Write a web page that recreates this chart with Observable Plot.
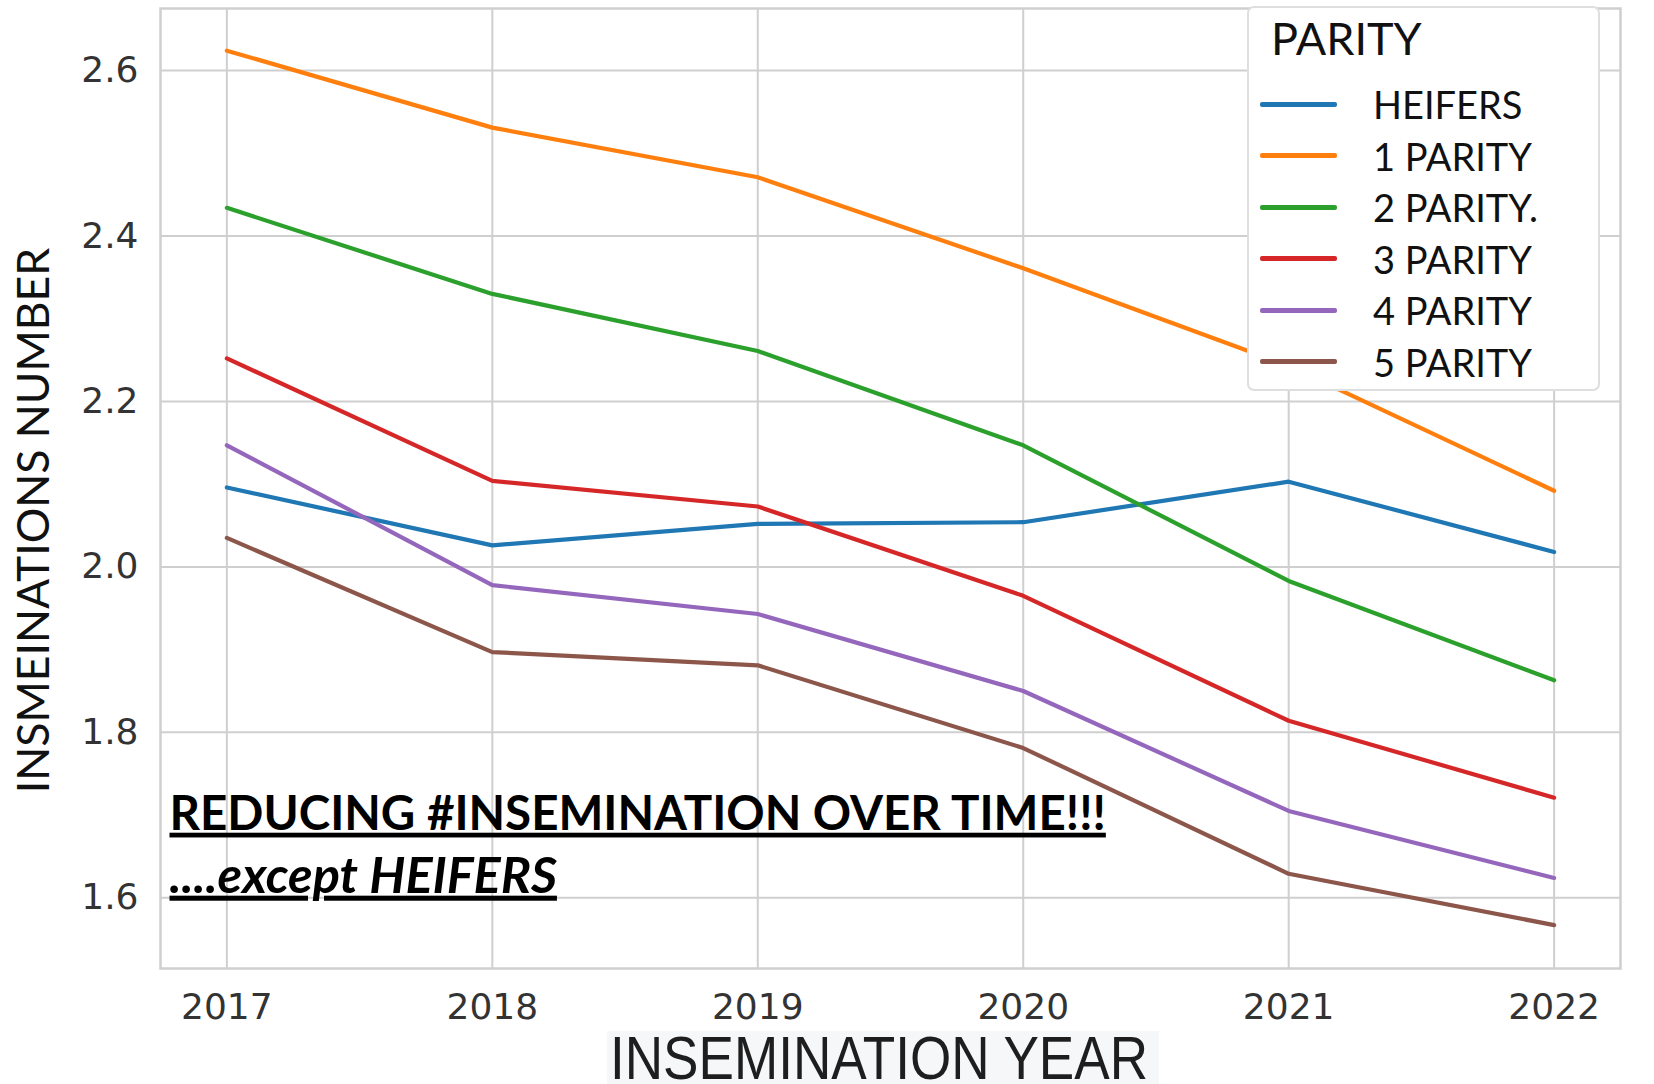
<!DOCTYPE html>
<html><head><meta charset="utf-8">
<script src="https://cdn.jsdelivr.net/npm/d3@7"></script>
<script src="https://cdn.jsdelivr.net/npm/@observablehq/plot@0.6"></script>
<style>
body{margin:0;background:#fff;}
#wrap{position:relative;width:1654px;height:1084px;overflow:hidden;background:#fff;}
#legend{position:absolute;left:1247px;top:6px;width:353px;height:385px;background:#fff;border:2px solid #dedede;border-radius:7px;box-sizing:border-box;font-family:Lato,"Open Sans",sans-serif;color:#111;}
#legend .title{position:absolute;left:22px;top:30px;transform:translateY(-50%);font-size:45px;line-height:1;}
#legend .row{position:absolute;left:0;height:0;}
#legend .sw{position:absolute;left:11px;width:77px;height:5px;top:-2.5px;border-radius:2px;}
#legend .lab{position:absolute;left:124px;top:0;transform:translateY(-50%);font-size:38px;line-height:1;white-space:nowrap;}
#xtitle{position:absolute;left:607px;top:1031px;width:552px;height:53px;background:#f6f7f9;}
#xtitle span{position:absolute;left:3px;top:50%;transform-origin:0 50%;transform:translateY(-50%) scale(0.9,1.04);font-family:"Liberation Sans",Arial,sans-serif;font-size:59px;line-height:0.78;color:#1e1e1e;white-space:nowrap;}
</style></head><body><div id="wrap"></div>
<script>
const years = [2017, 2018, 2019, 2020, 2021, 2022];
const seriesNames = ["HEIFERS", "1 PARITY", "2 PARITY.", "3 PARITY", "4 PARITY", "5 PARITY"];
const heifers = [2.096, 2.026, 2.052, 2.054, 2.103, 2.018];
const parity1 = [2.624, 2.531, 2.471, 2.361, 2.243, 2.092];
const parity2 = [2.434, 2.330, 2.261, 2.147, 1.983, 1.863];
const parity3 = [2.252, 2.104, 2.073, 1.965, 1.814, 1.721];
const parity4 = [2.147, 1.978, 1.943, 1.850, 1.705, 1.624];
const parity5 = [2.035, 1.897, 1.881, 1.781, 1.629, 1.567];
const colors = ["#1f77b4", "#ff7f0e", "#2ca02c", "#d62728", "#9467bd", "#8c564b"];
const yTicks = [1.6, 1.8, 2.0, 2.2, 2.4, 2.6];
const yTitle = "INSMEINATIONS NUMBER";
const xTitle = "INSEMINATION YEAR";
const legendTitle = "PARITY";
const note1 = "REDUCING #INSEMINATION OVER TIME!!!";
const note2 = "....except HEIFERS";

const seriesValues = [heifers, parity1, parity2, parity3, parity4, parity5];
const rows = [];
seriesNames.forEach((name, i) => years.forEach((yr, j) => rows.push({series: name, year: yr, value: seriesValues[i][j]})));

const grid = "#cfcfcf";
const plot = Plot.plot({
  width: 1654, height: 1084,
  marginLeft: 160, marginRight: 34, marginTop: 8, marginBottom: 116,
  style: {background: "transparent"},
  x: {domain: [2016.75, 2022.25]},
  y: {domain: [1.5145, 2.675]},
  color: {domain: seriesNames, range: colors},
  marks: [
    Plot.gridY(yTicks, {stroke: grid, strokeOpacity: 1, strokeWidth: 2}),
    Plot.gridX(years, {stroke: grid, strokeOpacity: 1, strokeWidth: 2}),
    Plot.frame({stroke: grid, strokeWidth: 2.5}),
    Plot.axisY(yTicks, {tickSize: 0, tickPadding: 22, fontSize: 36, fontFamily: "DejaVu Sans", fill: "#333", label: null, tickFormat: d => d.toFixed(1)}),
    Plot.axisX(years, {tickSize: 0, tickPadding: 25, fontSize: 36, fontFamily: "DejaVu Sans", fill: "#333", label: null, tickFormat: d => String(d)}),
    Plot.line(rows, {x: "year", y: "value", z: "series", stroke: "series", strokeWidth: 4.2}),
    Plot.text([yTitle], {frameAnchor: "left", dx: -126, dy: 32, rotate: -90, textAnchor: "middle", lineAnchor: "middle", fontSize: 44.5, fontFamily: "Lato", fill: "#111", text: d => d}),
    Plot.text([note1], {frameAnchor: "bottom-left", dx: 9, dy: -154, textAnchor: "start", lineAnchor: "middle", fontSize: 47.5, fontWeight: "bold", fontFamily: "Lato", fill: "#000", text: d => d}),
    Plot.text([note2], {frameAnchor: "bottom-left", dx: 9, dy: -92, textAnchor: "start", lineAnchor: "middle", fontSize: 50.5, fontWeight: "bold", fontStyle: "italic", fontFamily: "Lato", fill: "#000", text: d => d})
  ]
});
d3.select(plot).selectAll("text").filter(function() { return this.textContent === note1 || this.textContent === note2; })
  .style("text-decoration", "underline").attr("text-decoration", "underline");
const wrap = document.getElementById("wrap");
wrap.appendChild(plot);

const legend = document.createElement("div");
legend.id = "legend";
const t = document.createElement("div");
t.className = "title"; t.textContent = legendTitle;
legend.appendChild(t);
seriesNames.forEach((name, i) => {
  const r = document.createElement("div");
  r.className = "row";
  r.style.top = (96 + i * 51.5) + "px";
  const sw = document.createElement("div"); sw.className = "sw"; sw.style.background = colors[i];
  const lab = document.createElement("div"); lab.className = "lab"; lab.textContent = name;
  r.appendChild(sw); r.appendChild(lab);
  legend.appendChild(r);
});
wrap.appendChild(legend);

const xt = document.createElement("div");
xt.id = "xtitle";
const xs = document.createElement("span"); xs.textContent = xTitle;
xt.appendChild(xs);
wrap.appendChild(xt);
</script></body></html>
